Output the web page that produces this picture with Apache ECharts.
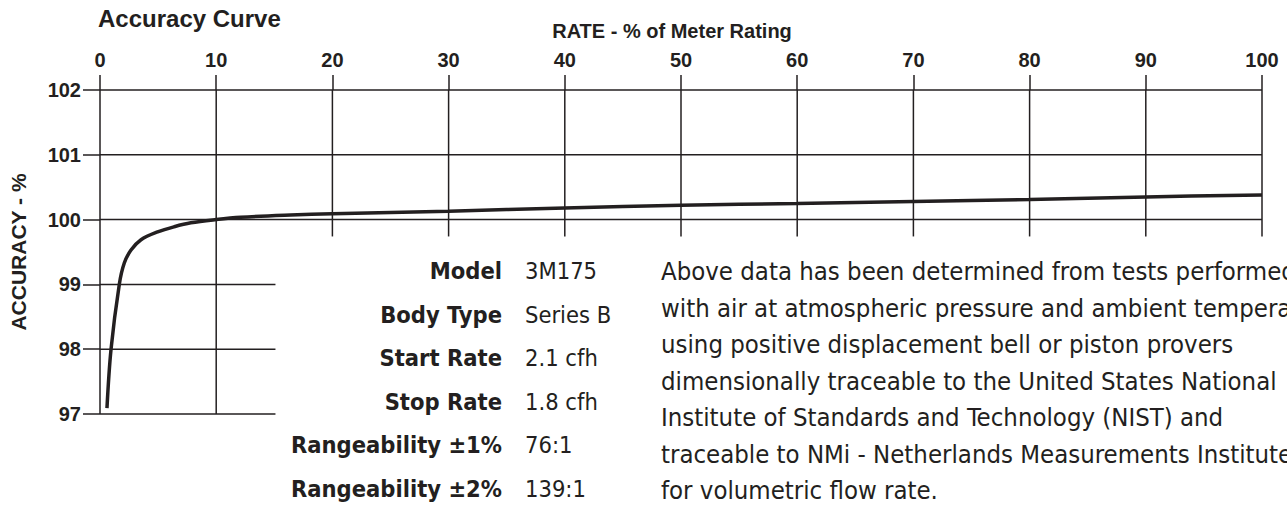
<!DOCTYPE html>
<html>
<head>
<meta charset="utf-8">
<title>Accuracy Curve</title>
<script src="https://cdn.jsdelivr.net/npm/echarts@6/dist/echarts.min.js"></script>
<style>
  html, body { margin: 0; padding: 0; background: #fff; }
  #chart { width: 1287px; height: 509px; }
</style>
</head>
<body>
<div id="chart"></div>
<script>
// rate (% of meter rating) / accuracy (%)
var rate = [0.6, 0.95, 1.66, 2.09, 2.67, 3.53, 4.96, 6.39, 7.82, 10, 12.1, 16.4, 20, 30, 40, 50, 60, 70, 80, 90, 100];
var accuracy = [97.09, 98.0, 99.0, 99.33, 99.53, 99.69, 99.81, 99.89, 99.95, 100.0, 100.035, 100.07, 100.09, 100.13, 100.18, 100.22, 100.25, 100.28, 100.31, 100.35, 100.38];

// axis ticks
var xTicks = [0, 10, 20, 30, 40, 50, 60, 70, 80, 90, 100];
var yTicks = [97, 98, 99, 100, 101, 102];

// spec table + note
var specLabels = ['Model', 'Body Type', 'Start Rate', 'Stop Rate', 'Rangeability ±1%', 'Rangeability ±2%'];
var specValues = ['3M175', 'Series B', '2.1 cfh', '1.8 cfh', '76:1', '139:1'];
var noteLines = [
  'Above data has been determined from tests performed',
  'with air at atmospheric pressure and ambient temperature',
  'using positive displacement bell or piston provers',
  'dimensionally traceable to the United States National',
  'Institute of Standards and Technology (NIST) and',
  'traceable to NMi - Netherlands Measurements Institute',
  'for volumetric flow rate.'
];

var ink = '#231f20';
var boldFont = 'Liberation Sans, Arial, Helvetica, sans-serif';
var narrowFont = "'Liberation Sans Narrow', 'Arial Narrow', 'DejaVu Sans Condensed', sans-serif";

// the grid is cut short under the spec table
var shortX = 15.1;    // lower rows stop here
var shortY = 99.74;   // verticals past 10 stop here

var gridSegs = [];
yTicks.forEach(function (y) {
  gridSegs.push([0, y, y >= 100 ? 100 : shortX, y]);
});
xTicks.forEach(function (x) {
  gridSegs.push([x, x <= 10 ? 97 : shortY, x, 102]);
});

var myChart = echarts.init(document.getElementById('chart'), null, { renderer: 'svg' });

var graphics = [];
specLabels.forEach(function (t, i) {
  var y = 271 + i * 43.6;
  graphics.push({
    type: 'text', x: 502, y: y,
    style: { text: t, align: 'right', verticalAlign: 'middle', fill: ink,
      fontFamily: narrowFont, fontWeight: 'bold', fontSize: 23.5 }
  });
  graphics.push({
    type: 'text', x: 525, y: y,
    style: { text: specValues[i], align: 'left', verticalAlign: 'middle', fill: ink,
      fontFamily: narrowFont, fontSize: 23.5 }
  });
});
noteLines.forEach(function (t, i) {
  graphics.push({
    type: 'text', x: 661, y: 271 + i * 36.5,
    style: { text: t, align: 'left', verticalAlign: 'middle', fill: ink,
      fontFamily: narrowFont, fontSize: 25.5 }
  });
});

var option = {
  animation: false,
  backgroundColor: '#fff',
  title: {
    text: 'Accuracy Curve',
    left: 93,
    top: 1,
    textStyle: { fontFamily: boldFont, fontSize: 24, fontWeight: 'bold', color: ink }
  },
  grid: { left: 99, right: 25, top: 90, bottom: 95 },
  xAxis: {
    type: 'value',
    position: 'top',
    min: 0,
    max: 100,
    interval: 10,
    name: 'RATE - % of Meter Rating',
    nameLocation: 'middle',
    nameGap: 49,
    nameTextStyle: { fontFamily: boldFont, fontSize: 20, fontWeight: 'bold', color: ink, padding: [0, 18, 0, 0] },
    axisLine: { show: false },
    axisTick: { show: true, length: 15, lineStyle: { color: ink, width: 1.5 } },
    splitLine: { show: false },
    axisLabel: { margin: 20, fontFamily: boldFont, fontSize: 20, fontWeight: 'bold', color: ink }
  },
  yAxis: {
    type: 'value',
    min: 97,
    max: 102,
    interval: 1,
    name: 'ACCURACY - %',
    nameLocation: 'middle',
    nameRotate: 90,
    nameGap: 71,
    nameTextStyle: { fontFamily: boldFont, fontSize: 21, fontWeight: 'bold', color: ink },
    axisLine: { show: false },
    axisTick: { show: true, length: 17, lineStyle: { color: ink, width: 1.5 } },
    splitLine: { show: false },
    axisLabel: { margin: 19, fontFamily: boldFont, fontSize: 20, fontWeight: 'bold', color: ink }
  },
  series: [
    {
      // grid lines
      type: 'custom',
      silent: true,
      clip: false,
      data: gridSegs,
      renderItem: function (params, api) {
        var p1 = api.coord([api.value(0), api.value(1)]);
        var p2 = api.coord([api.value(2), api.value(3)]);
        return {
          type: 'line',
          shape: { x1: p1[0], y1: p1[1], x2: p2[0], y2: p2[1] },
          style: { stroke: ink, lineWidth: 1.5 }
        };
      }
    },
    {
      name: 'Accuracy',
      type: 'line',
      smooth: 0.35,
      showSymbol: false,
      clip: false,
      lineStyle: { color: ink, width: 3.5 },
      data: rate.map(function (r, i) { return [r, accuracy[i]]; })
    }
  ],
  graphic: graphics
};
myChart.setOption(option);
</script>
</body>
</html>
